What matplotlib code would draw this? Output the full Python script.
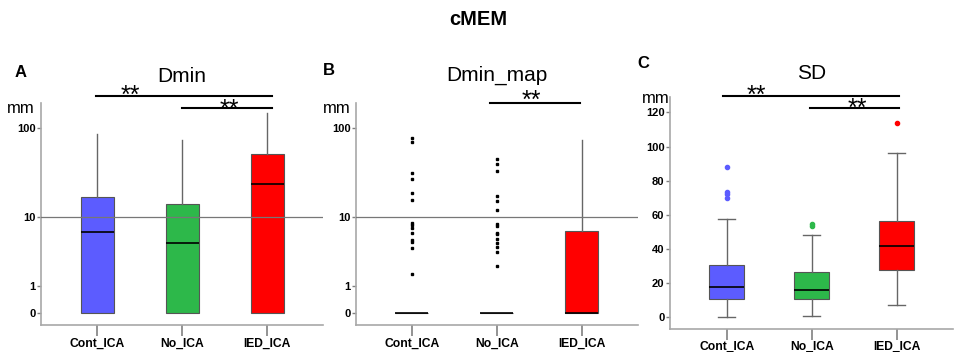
import numpy as np
import matplotlib
matplotlib.use('agg')
import matplotlib.pyplot as plt

plt.rcParams['font.family'] = ['Liberation Sans', 'DejaVu Sans']

groups = ['Cont_ICA', 'No_ICA', 'IED_ICA']
colors = ['#5c5cff', '#2db84a', '#ff0000']

# Dmin (mm)
dmin_whislo = [0, 0, 0]
dmin_q1 = [0, 0, 0]
dmin_med = [6.6, 4.8, 24.1]
dmin_q3 = [17.4, 14.3, 52.4]
dmin_whishi = [87.0, 74.8, 146.6]

# Dmin_map (mm)
dmap_whislo = [0, 0, 0]
dmap_q1 = [0, 0, 0]
dmap_med = [0, 0, 0]
dmap_q3 = [0, 0, 6.7]
dmap_whishi = [0, 0, 74.4]
dmap_cont_out = [77.6, 71.3, 32.4, 27.3, 18.9, 15.9, 8.4, 8.05, 7.3, 6.35, 5.2, 4.97, 4.06, 1.67]
dmap_no_out = [45.5, 40.1, 34.1, 17.7, 15.6, 12.2, 8.28, 7.83, 6.48, 6.23, 5.38, 4.73, 4.18, 3.62, 2.26]

# SD (mm)
sd_whislo = [0, 0.8, 7.2]
sd_q1 = [10.7, 10.7, 27.7]
sd_med = [17.6, 15.8, 42.0]
sd_q3 = [30.6, 26.7, 56.4]
sd_whishi = [57.4, 48.2, 96.4]
sd_cont_out = [88.2, 73.2, 72.0, 70.0]
sd_no_out = [54.6, 53.5]
sd_ied_out = [114.0]

W, H = 957, 352
fig = plt.figure(figsize=(W / 100, H / 100), dpi=100)


def px(x, y):
    return x / W, 1 - y / H


def make_axes(x0, x1, ytop, ybot):
    l, b = px(x0, ybot)
    return fig.add_axes([l, b, (x1 - x0) / W, (ybot - ytop) / H])


def fwd(x):
    return np.log10(np.maximum(np.asarray(x, dtype=float) + 1, 1e-6))


def inv(y):
    return 10 ** np.asarray(y, dtype=float) - 1


def stats_list(wlo, q1, med, q3, whi, fliers):
    out = []
    for i in range(len(groups)):
        out.append(dict(label=groups[i], whislo=wlo[i], q1=q1[i], med=med[i],
                        q3=q3[i], whishi=whi[i], fliers=fliers[i]))
    return out


def style(ax, xlim):
    for s in ['top', 'right']:
        ax.spines[s].set_visible(False)
    for s in ['left', 'bottom']:
        ax.spines[s].set_color('#a8a8a8')
        ax.spines[s].set_linewidth(1.2)
    ax.set_xlim(*xlim)
    ax.set_xticks([1, 2, 3])
    ax.set_xticklabels(groups, fontsize=8.7, fontweight='bold')
    ax.tick_params(axis='x', length=8, width=1.2, color='#808080', pad=1)
    ax.tick_params(axis='y', length=3, width=1, color='#808080', pad=1,
                   labelsize=8, labelcolor='black')
    for t in ax.get_yticklabels():
        t.set_fontweight('bold')


def draw_box(ax, stats, caps, widths):
    art = ax.bxp(stats, positions=[1, 2, 3], widths=widths, patch_artist=True,
                 showcaps=caps,
                 boxprops=dict(edgecolor='#555555', linewidth=0.8),
                 whiskerprops=dict(color='#666666', linewidth=1),
                 capprops=dict(color='#666666', linewidth=1),
                 medianprops=dict(color='black', linewidth=1.2),
                 flierprops=dict(marker='s', markersize=2, markerfacecolor='black',
                                 markeredgecolor='black', linestyle='none'),
                 manage_ticks=False)
    for patch, c in zip(art['boxes'], colors):
        patch.set_facecolor(c)
    return art


def bracket(ax, x0, x1, y, tx, ty):
    ax.plot([x0, x1], [y, y], color='black', lw=1.5, transform=ax.get_xaxis_transform(),
            clip_on=False)
    ax.text(tx, ty, '**', fontsize=18, ha='center', va='center',
            transform=ax.get_xaxis_transform(), clip_on=False)


# ---------- A: Dmin ----------
axA = make_axes(41, 323, 103, 325)
axA.set_yscale('function', functions=(fwd, inv))
draw_box(axA, stats_list(dmin_whislo, dmin_q1, dmin_med, dmin_q3, dmin_whishi,
                         [[], [], []]), False, 0.39)
axA.axhline(10, color='#777777', lw=0.9, zorder=5)
axA.set_ylim(-0.252, 188.7)
axA.set_yticks([0, 1, 10, 100])
axA.set_yticklabels(['0', '1', '10', '100'])
style(axA, (0.338, 3.655))
bracket(axA, 0.99, 3.06, 1.0315, 1.385, 1.034)
bracket(axA, 2.0, 3.06, 0.976, 2.55, 0.967)

# ---------- B: Dmin_map ----------
axB = make_axes(356, 638, 103, 325)
axB.set_yscale('function', functions=(fwd, inv))
draw_box(axB, stats_list(dmap_whislo, dmap_q1, dmap_med, dmap_q3, dmap_whishi,
                         [dmap_cont_out, dmap_no_out, []]), False, 0.39)
axB.axhline(10, color='#777777', lw=0.9, zorder=5)
axB.set_ylim(-0.252, 188.7)
axB.set_yticks([0, 1, 10, 100])
axB.set_yticklabels(['0', '1', '10', '100'])
style(axB, (0.345, 3.66))
bracket(axB, 1.92, 2.98, 1.001, 2.41, 1.008)

# ---------- C: SD ----------
axC = make_axes(670, 953, 97, 328.5)
artC = draw_box(axC, stats_list(sd_whislo, sd_q1, sd_med, sd_q3, sd_whishi,
                                [sd_cont_out, sd_no_out, sd_ied_out]), True, 0.41)
for fl, c in zip(artC['fliers'], colors):
    fl.set_marker('o')
    fl.set_markersize(3)
    fl.set_markerfacecolor(c)
    fl.set_markeredgecolor(c)
for cap in artC['caps']:
    xd = cap.get_xdata()
    mid = (xd[0] + xd[1]) / 2
    cap.set_xdata([mid - 0.1, mid + 0.1])
axC.set_ylim(-6.5, 129)
axC.set_yticks([0, 20, 40, 60, 80, 100, 120])
style(axC, (0.333, 3.66))
bracket(axC, 0.953, 3.03, 1.004, 1.345, 1.006)
bracket(axC, 1.98, 3.03, 0.951, 2.54, 0.948)

# ---------- texts ----------
for ax, title, yb in [(axA, 'Dmin', 81.5), (axB, 'Dmin_map', 81), (axC, 'SD', 79.3)]:
    pos = ax.get_position()
    fig.text(pos.x0 + pos.width / 2, 1 - yb / H, title, fontsize=15,
             ha='center', va='baseline')

for lab, x, y in [('A', 15, 76.7), ('B', 323, 75), ('C', 637, 68.3)]:
    fig.text(*px(x, y), lab, fontsize=12, fontweight='bold', va='baseline')

for x, y in [(6.7, 113.3), (323.3, 113.3), (641.7, 102.7)]:
    fig.text(*px(x, y), 'mm', fontsize=12, va='baseline')

fig.text(*px(478, 25), 'cMEM', fontsize=14.5, fontweight='bold', ha='center',
         va='baseline')

fig.savefig('out.png', dpi=100)
